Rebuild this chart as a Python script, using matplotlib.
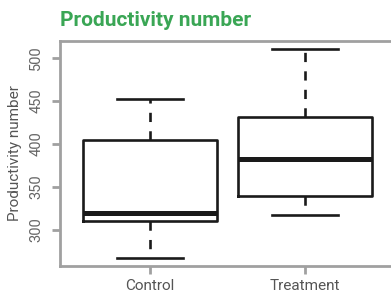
import matplotlib
matplotlib.use("Agg")
import matplotlib.pyplot as plt

# datos (cuartiles y bigotes)
grupos = ["Control", "Treatment"]
minimos = [268, 318]
q1 = [311, 340]
medianas = [320, 383]
q3 = [405, 431]
maximos = [452, 510]
yticks = [300, 350, 400, 450, 500]

plt.rcParams['font.family'] = ['Roboto', 'DejaVu Sans']

fig = plt.figure(figsize=(3.91, 2.98), dpi=100)
ax = fig.add_axes([60 / 391, 32 / 298, 335 / 391, 225 / 298])

stats = []
for i, g in enumerate(grupos):
    stats.append({"label": g, "whislo": minimos[i], "q1": q1[i], "med": medianas[i],
                  "q3": q3[i], "whishi": maximos[i], "fliers": []})

negro = "#1a1a1a"
ax.bxp(stats, positions=[1, 2], widths=0.86, showfliers=False,
       boxprops=dict(color=negro, linewidth=1.9),
       medianprops=dict(color=negro, linewidth=3.6, solid_capstyle="butt"),
       whiskerprops=dict(color=negro, linewidth=1.9, linestyle=(0, (3.5, 3.5))),
       capprops=dict(color=negro, linewidth=1.9), capwidths=0.42)

ax.set_xlim(0.42, 2.58)
ax.set_ylim(258.3, 519.7)

gris = "#a0a0a0"
for s in ax.spines.values():
    s.set_color(gris)
    s.set_linewidth(2)

ax.set_yticks(yticks)
ax.set_yticklabels([str(t) for t in yticks], rotation=90, va="center",
                   fontsize=10.5, color="#666666")
ax.set_xticks([1, 2])
ax.set_xticklabels(grupos, fontsize=11, color="#555555")
ax.tick_params(axis="both", color=gris, width=2, length=6)
ax.tick_params(axis="y", pad=6)
ax.tick_params(axis="x", pad=3)

ax.set_ylabel("Productivity number", fontsize=11, color="#555555", labelpad=5)

fig.text(60 / 391, 1 - 26 / 298, "Productivity number", fontsize=15,
         fontweight="bold", color="#3aa655", ha="left", va="baseline")

fig.savefig("out.png", dpi=100)
